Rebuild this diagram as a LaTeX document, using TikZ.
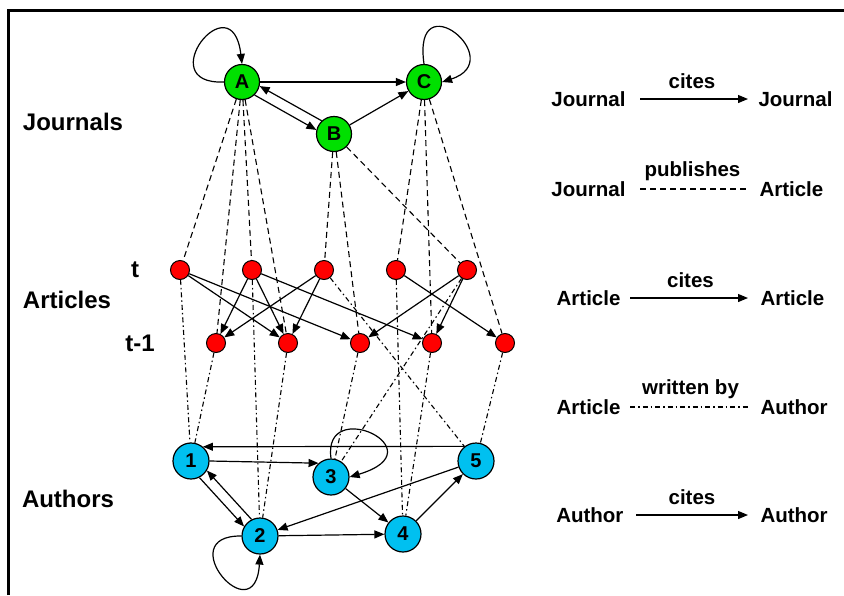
\documentclass[tikz,border=0pt]{standalone}
\usepackage{fontspec}
\setmainfont{Liberation Sans}
\usetikzlibrary{arrows.meta}

\definecolor{jgreen}{RGB}{0,224,0}
\definecolor{acyan}{RGB}{0,192,240}

\begin{document}
\begin{tikzpicture}[x=1pt, y=-1pt,
        journal/.style={circle, draw, line width=1.2pt, fill=jgreen, minimum size=35pt, inner sep=0pt, font=\fontsize{20}{20}\selectfont\bfseries},
        article/.style={circle, draw, line width=1pt, fill=red, minimum size=19pt, inner sep=0pt},
        author/.style={circle, draw, line width=1.2pt, fill=acyan, minimum size=36pt, inner sep=0pt, font=\fontsize{20}{20}\selectfont\bfseries},
        cite/.style={-{Triangle[length=10pt,width=8pt]}, line width=1.2pt},
        pub/.style={dash pattern=on 6pt off 4pt, line width=1.1pt},
        wrote/.style={dash pattern=on 5pt off 3pt on 1.5pt off 3pt, line width=1.1pt},
        group/.style={font=\fontsize{24}{24}\selectfont\bfseries},
        legend/.style={font=\fontsize{20.5}{20.5}\selectfont\bfseries}]
        \useasboundingbox (0,0) rectangle (844,595);
        \draw[line width=3pt] (8,595) -- (8,10) -- (846,10);

        % journals, articles, authors
        \node[journal] (ja) at (242,82) {A};
        \node[journal] (jb) at (334,134) {B};
        \node[journal] (jc) at (424,82) {C};
        \foreach \i/\x in {1/180,2/252,3/324,4/396,5/467}
            \node[article] (t\i) at (\x,270) {};
        \foreach \i/\x in {1/216,2/288,3/360,4/432,5/505}
            \node[article] (p\i) at (\x,343) {};
        \node[author] (au1) at (191,461) {1};
        \node[author] (au2) at (260,536) {2};
        \node[author] (au3) at (331,477) {3};
        \node[author] (au4) at (403,534) {4};
        \node[author] (au5) at (476,461) {5};

        \node[group] (lbjour) at (73,122) {Journals};
        \node[group] (lbart) at (67,300) {Articles};
        \node[group] (lbauth) at (68,499) {Authors};
        \node[group] (lbt) at (135,270) {t};
        \node[group] (lbtm) at (140,343) {t-1};

        % journal cites journal
        \draw[cite] (ja.west) .. controls (150,85) and (232,-20) .. (ja.north);
        \draw[cite] (jc.north) .. controls (412,-20) and (510,60) .. (jc.east);
        \draw[cite] (ja) -- (jc);
        \draw[cite] (ja.-46) -- (jb.167);
        \draw[cite] (jb.133) -- (ja.-13);
        \draw[cite] (jb) -- (jc);

        % journal publishes article
        \foreach \j/\a in {ja/t1,ja/p1,ja/t2,ja/p2,jb/t3,jb/p3,jb/t5,jc/t4,jc/p4,jc/p5}
            \draw[pub] (\j) -- (\a);

        % article cites article
        \foreach \a/\b in {t1/p2,t1/p3,t2/p1,t2/p2,t2/p4,t3/p1,t3/p2,t4/p5,t5/p3,t5/p4}
            \draw[cite] (\a) -- (\b);

        % article written by author
        \foreach \a/\u in {t1/au1,p1/au1,t2/au2,p2/au2,p3/au3,t5/au3,t3/au5,t4/au4,p4/au4,p5/au5}
            \draw[wrote] (\a) -- (\u);

        % author cites author
        \draw[cite] (au5.128) -- (au1.50);
        \draw[cite] (au1.east) -- (au3.132);
        \draw[cite] (au3.north) .. controls (322,395) and (440,450) .. (au3.east);
        \draw[cite] (au1.-63) -- (au2.149);
        \draw[cite] (au2.117) -- (au1.-31);
        \draw[cite] (au2.west) .. controls (170,535) and (255,635) .. (au2.south);
        \draw[cite] (au2) -- (au4);
        \draw[cite] (au5) -- (au2);
        \draw[cite] (au3) -- (au4);
        \draw[cite] (au4) -- (au5);

        % legend
        \node[legend, anchor=east] (lj1) at (629,99) {Journal};
        \node[legend, anchor=west] (lj2) at (755,99) {Journal};
        \draw[cite, shorten <=11pt, shorten >=7pt] (lj1) -- (lj2) node[midway, above=10pt, legend, inner sep=0pt] {cites};
        \node[legend, anchor=east] (lp1) at (629,189) {Journal};
        \node[legend, anchor=west] (lp2) at (756,189) {Article};
        \draw[pub, shorten <=11pt, shorten >=8pt] (lp1) -- (lp2) node[midway, above=8pt, legend, inner sep=0pt] {publishes};
        \node[legend, anchor=east] (la1) at (624,298) {Article};
        \node[legend, anchor=west] (la2) at (757,298) {Article};
        \draw[cite, shorten <=6pt, shorten >=9pt] (la1) -- (la2) node[midway, above=10pt, legend, inner sep=0pt] {cites};
        \node[legend, anchor=east] (lw1) at (624,407) {Article};
        \node[legend, anchor=west] (lw2) at (757,407) {Author};
        \draw[wrote, shorten <=6pt, shorten >=9pt] (lw1) -- (lw2) node[midway, above=8pt, legend, inner sep=0pt] {written by};
        \node[legend, anchor=east] (lu1) at (627,515) {Author};
        \node[legend, anchor=west] (lu2) at (757,515) {Author};
        \draw[cite, shorten <=9pt, shorten >=9pt] (lu1) -- (lu2) node[midway, above=10pt, legend, inner sep=0pt] {cites};
    \end{tikzpicture}
\end{document}
